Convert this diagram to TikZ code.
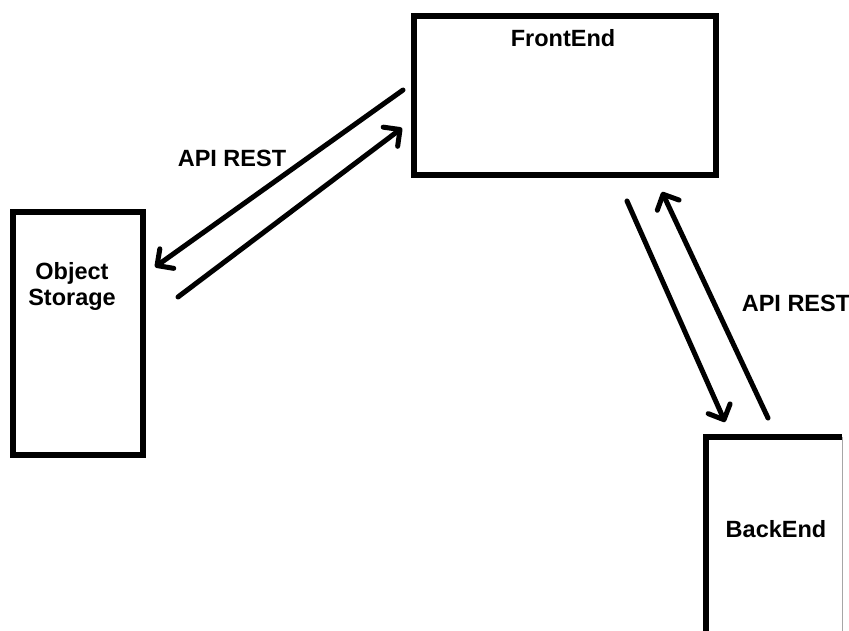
\documentclass[tikz,border=0pt]{standalone}
\usepackage{fontspec}
\setmainfont{Liberation Sans}
\usetikzlibrary{arrows.meta}
\begin{document}
\begin{tikzpicture}[x=1pt,y=-1pt,
  boxframe/.style={draw=black, line width=5.5pt, inner sep=0pt, fill=white},
  lbl/.style={font=\fontsize{23.5}{26}\selectfont\bfseries, inner sep=0pt, align=center},
  flow/.style={line width=5pt, line cap=round,
    -{Straight Barb[length=12pt, width=24pt, line cap=round, line join=round]}}]
  \useasboundingbox[fill=white] (0,0) rectangle (849,630);

  % boxes
  \node[boxframe, minimum width=302pt, minimum height=159pt] (fe) at (565,95.5) {};
  \node[boxframe, minimum width=130pt, minimum height=243pt] (os) at (78,333.5) {};
  \node[inner sep=0pt, minimum width=136pt, minimum height=230pt] (be) at (774,552) {};
  \draw[line width=5.5pt, line join=miter] (be.south west) -- (be.north west) -- (be.north east);
  \draw[gray!70, line width=1pt] (be.north east) -- (be.south east);

  % box titles
  \node[lbl] (fet) at (563,38) {FrontEnd};
  \node[lbl] (ost) at (72,286) {Object\\Storage};
  \node[lbl] (bet) at (776,529) {BackEnd};

  % connector end points
  \coordinate (feA) at (403,90);
  \coordinate (osA) at (155,267);
  \coordinate (osB) at (178,297);
  \coordinate (feB) at (402,128);
  \coordinate (feC) at (627,201);
  \coordinate (beC) at (725,422);
  \coordinate (beD) at (768,418);
  \coordinate (feD) at (662,192);

  % connectors
  \draw[flow] (feA) -- (osA);
  \draw[flow] (osB) -- (feB);
  \draw[flow] (feC) -- (beC);
  \draw[flow] (beD) -- (feD);

  % connector labels
  \node[lbl] (api1) at (232,158) {API REST};
  \node[lbl] (api2) at (796,303) {API REST};
\end{tikzpicture}
\end{document}
